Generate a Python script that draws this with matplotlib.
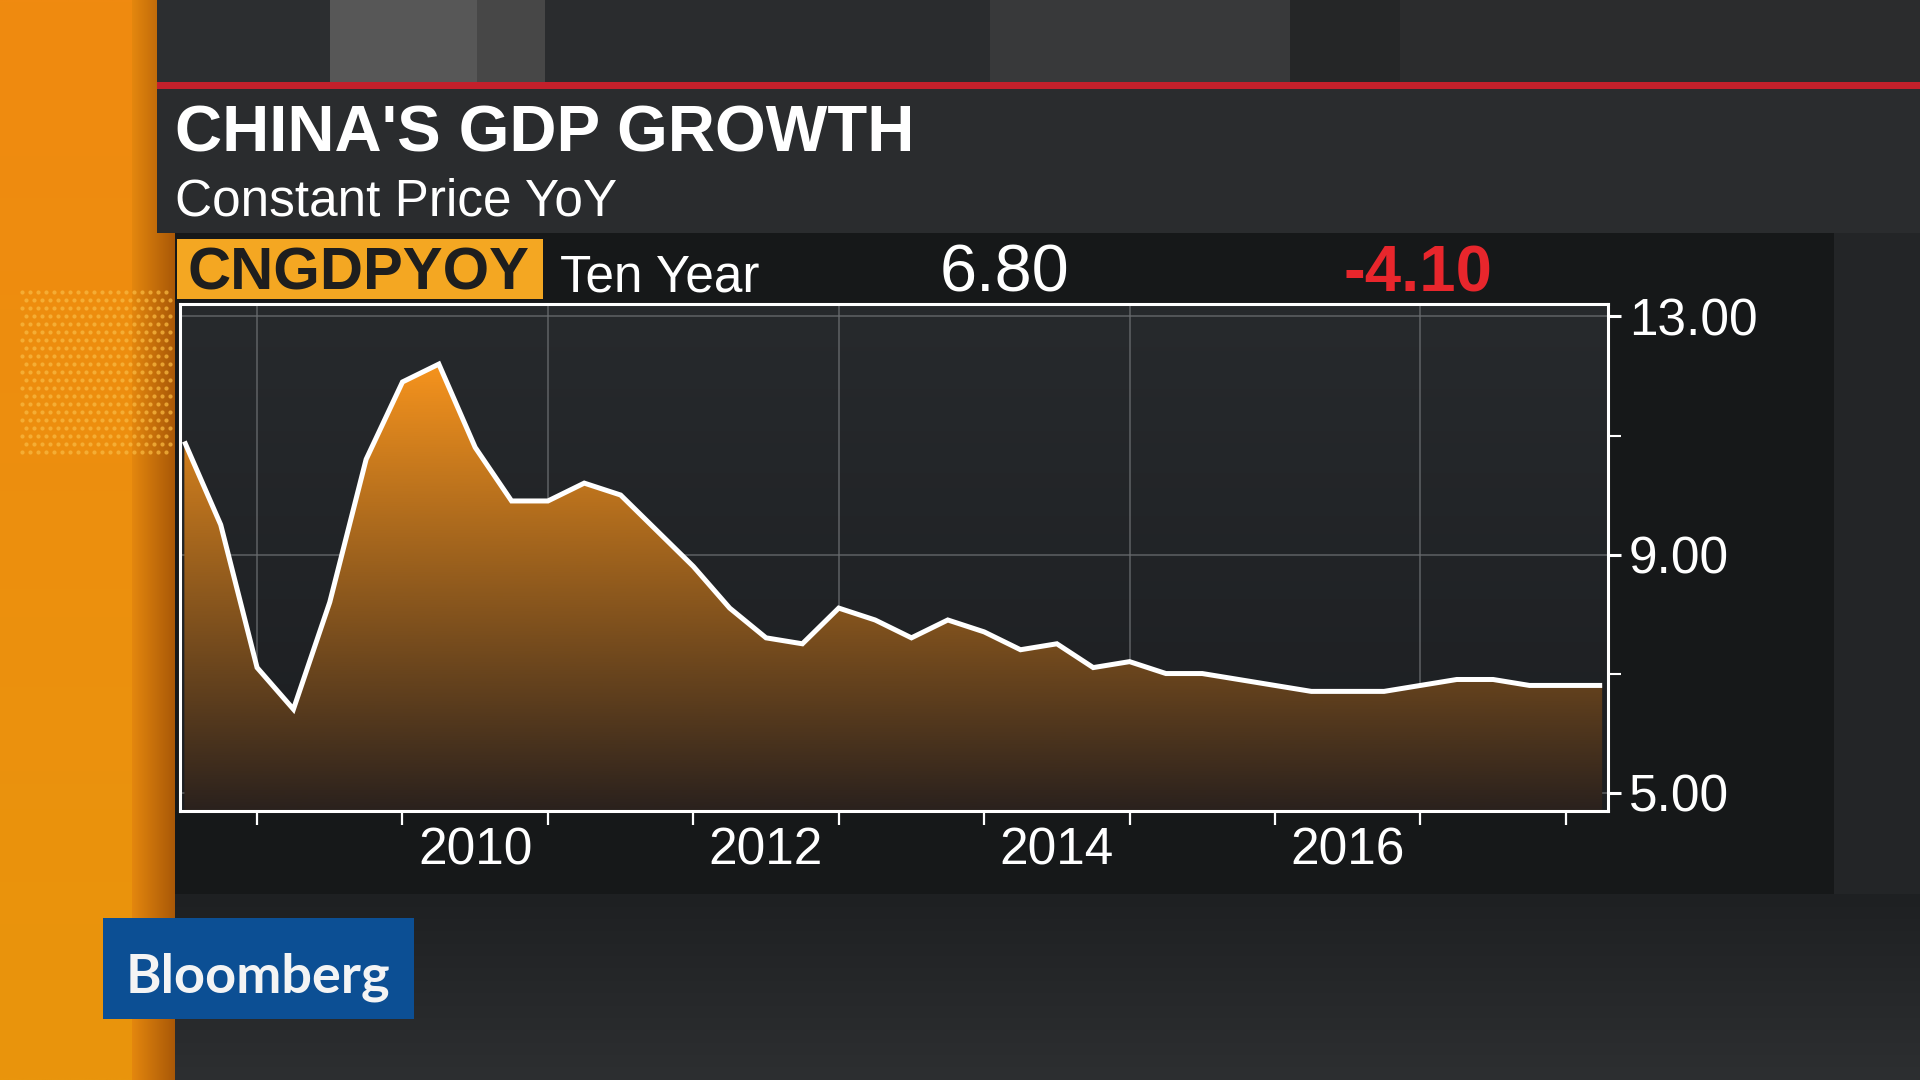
import numpy as np
import matplotlib
matplotlib.use('Agg')
import matplotlib.pyplot as plt
from matplotlib.patches import Rectangle, Polygon
from matplotlib.colors import LinearSegmentedColormap, to_rgb

# ---------------- data ----------------
quarters = ['2008Q2', '2008Q3', '2008Q4',
            '2009Q1', '2009Q2', '2009Q3', '2009Q4',
            '2010Q1', '2010Q2', '2010Q3', '2010Q4',
            '2011Q1', '2011Q2', '2011Q3', '2011Q4',
            '2012Q1', '2012Q2', '2012Q3', '2012Q4',
            '2013Q1', '2013Q2', '2013Q3', '2013Q4',
            '2014Q1', '2014Q2', '2014Q3', '2014Q4',
            '2015Q1', '2015Q2', '2015Q3', '2015Q4',
            '2016Q1', '2016Q2', '2016Q3', '2016Q4',
            '2017Q1', '2017Q2', '2017Q3', '2017Q4',
            '2018Q1']
gdp_yoy = [10.9, 9.5, 7.1,
           6.4, 8.2, 10.6, 11.9,
           12.2, 10.8, 9.9, 9.9,
           10.2, 10.0, 9.4, 8.8,
           8.1, 7.6, 7.5, 8.1,
           7.9, 7.6, 7.9, 7.7,
           7.4, 7.5, 7.1, 7.2,
           7.0, 7.0, 6.9, 6.8,
           6.7, 6.7, 6.7, 6.8,
           6.9, 6.9, 6.8, 6.8,
           6.8]
ytick_values = [5, 9, 13]
ytick_labels = ['5.00', '9.00', '13.00']
yminor_values = [7, 11]
year_ticks = [2009, 2010, 2011, 2012, 2013, 2014, 2015, 2016, 2017, 2018]
year_labels = [2010, 2012, 2014, 2016]
grid_years = [2009, 2011, 2013, 2015, 2017]

title = "CHINA'S GDP GROWTH"
subtitle = "Constant Price YoY"
ticker = "CNGDPYOY"
period = "Ten Year"
last_value = "6.80"
change = "-4.10"

# quarter-end positions in decimal years
x = np.array([int(q[:4]) + int(q[-1]) * 0.25 for q in quarters])
y = np.array(gdp_yoy)

FONT = 'Liberation Sans'

fig = plt.figure(figsize=(19.2, 10.8), dpi=100)
fig.patch.set_facecolor('#1d1f21')

# ---------------- background (pixel coordinates) ----------------
bg = fig.add_axes([0, 0, 1, 1])
bg.set_xlim(0, 1920)
bg.set_ylim(1080, 0)
bg.axis('off')

def grad(x0, x1, y0, y1, c0, c1, z=0, vertical=False):
    c0 = np.array(to_rgb(c0)); c1 = np.array(to_rgb(c1))
    t = np.linspace(0, 1, 256)
    g = c0[None, :] * (1 - t[:, None]) + c1[None, :] * t[:, None]
    img = g[:, None, :] if vertical else g[None, :, :]
    bg.imshow(img, extent=[x0, x1, y1, y0], aspect='auto', zorder=z, interpolation='bilinear')

# orange left strip
grad(0, 132, 0, 1080, '#f08a10', '#e9950c', z=0, vertical=True)
grad(132, 175, 0, 1080, '#e4870e', '#a95807', z=0)
# halftone dots
gx, gy = np.meshgrid(np.arange(22, 172, 8), np.arange(292, 460, 8))
gx = gx + (np.arange(gx.shape[0])[:, None] % 2) * 4
bg.scatter(gx.ravel(), gy.ravel(), s=9, color='#f8b840', alpha=0.75, lw=0, zorder=1)

# top band blocks
blocks = [(157, 330, '#2c2e30'), (330, 477, '#575757'), (477, 545, '#474747'),
          (545, 990, '#2a2c2e'), (990, 1290, '#38393a'), (1290, 1400, '#252627'),
          (1400, 1920, '#2b2c2d')]
for a, b, c in blocks:
    bg.add_patch(Rectangle((a, 0), b - a, 84, color=c, zorder=1, lw=0))
# red line and title panel
bg.add_patch(Rectangle((157, 82), 1763, 7, color='#c4202b', zorder=2, lw=0))
bg.add_patch(Rectangle((157, 89), 1763, 144, color='#2a2c2e', zorder=2, lw=0))
# main dark panel
bg.add_patch(Rectangle((175, 233), 1659, 661, color='#161819', zorder=1, lw=0))
bg.add_patch(Rectangle((1834, 233), 86, 661, color='#232527', zorder=1, lw=0))
# bottom area
grad(175, 1920, 894, 1080, '#1e2022', '#2d2f31', z=1, vertical=True)

# ticker box
bg.add_patch(Rectangle((177, 239), 366, 60, color='#f4a722', zorder=3, lw=0))

# Bloomberg logo
bg.add_patch(Rectangle((103, 918), 311, 101, color='#0c4f94', zorder=3, lw=0))
bg.text(258, 993, 'Bloomberg', color='#f4f4f4', fontsize=39, fontweight='bold',
        family='Lato', ha='center', va='baseline', zorder=4)

# texts
bg.text(175, 152, title, color='white', fontsize=47, fontweight='bold', family=FONT,
        va='baseline', zorder=4)
bg.text(175, 215, subtitle, color='white', fontsize=37, family=FONT, va='baseline', zorder=4)
bg.text(187, 290, ticker, color='#1e1e1e', fontsize=43, fontweight='bold', family=FONT,
        va='baseline', zorder=4)
bg.text(560, 291, period, color='white', fontsize=37, family=FONT, va='baseline', zorder=4)
bg.text(940, 291, last_value, color='white', fontsize=48, family=FONT, va='baseline', zorder=4)
bg.text(1344, 291, change, color='#e8262c', fontsize=47, fontweight='bold', family=FONT,
        va='baseline', zorder=4)

# ---------------- chart ----------------
L, R, T, B = 180, 1608, 304, 811
ax = fig.add_axes([L / 1920, 1 - B / 1080, (R - L) / 1920, (B - T) / 1080])
ax.set_zorder(5)
xmin, xmax = 2008.47, 2018.29
ymin, ymax = 4.69, 13.21

# plot background gradient
bgcm = LinearSegmentedColormap.from_list('bgc', ['#1c1e21', '#272a2d'])
ax.imshow(np.linspace(0, 1, 256).reshape(-1, 1), extent=[xmin, xmax, ymin, ymax],
          origin='lower', aspect='auto', cmap=bgcm, zorder=0)

# grid
for v in ytick_values:
    ax.axhline(v, color='#6b6e71', lw=1.3, alpha=0.7, zorder=0.5)
for g in grid_years:
    ax.axvline(g, color='#6b6e71', lw=1.3, alpha=0.7, zorder=0.5)

# gradient area fill
verts = [(x[0], ymin)] + list(zip(x, y)) + [(x[-1], ymin)]
poly = Polygon(verts, closed=True, facecolor='none', edgecolor='none', transform=ax.transData)
ax.add_patch(poly)
fillcm = LinearSegmentedColormap.from_list('fill', ['#2a211d', '#f7941d'])
im = ax.imshow(np.linspace(0, 1, 256).reshape(-1, 1), extent=[xmin, xmax, ymin, max(y) + 0.05],
               origin='lower', aspect='auto', cmap=fillcm, zorder=1)
im.set_clip_path(poly)
ax.set_xlim(xmin, xmax)
ax.set_ylim(ymin, ymax)

ax.plot(x, y, color='white', lw=3.6, zorder=3, solid_joinstyle='miter', solid_capstyle='butt')

# spines
for s in ax.spines.values():
    s.set_color('white')
    s.set_linewidth(2.2)
    s.set_zorder(4)

# y axis on right
ax.yaxis.tick_right()
ax.set_yticks(ytick_values)
ax.set_yticklabels(ytick_labels)
ax.set_yticks(yminor_values, minor=True)
ax.tick_params(axis='y', which='major', direction='out', length=9, width=2.2, colors='white',
               labelsize=37, pad=6)
ax.tick_params(axis='y', which='minor', direction='out', length=9, width=1.5, colors='white')

# x axis
ax.set_xticks(year_ticks)
ax.set_xticklabels([''] * len(year_ticks))
ax.set_xticks([yr + 0.5 for yr in year_labels], minor=True)
ax.set_xticklabels([str(yr) for yr in year_labels], minor=True)
ax.tick_params(axis='x', which='major', direction='out', length=10, width=1.6, colors='white')
ax.tick_params(axis='x', which='minor', length=0, labelsize=37, colors='white', pad=11)
for lab in ax.get_xticklabels(minor=True) + ax.get_yticklabels():
    lab.set_family(FONT)

fig.savefig('out.png', dpi=100, facecolor=fig.get_facecolor())
